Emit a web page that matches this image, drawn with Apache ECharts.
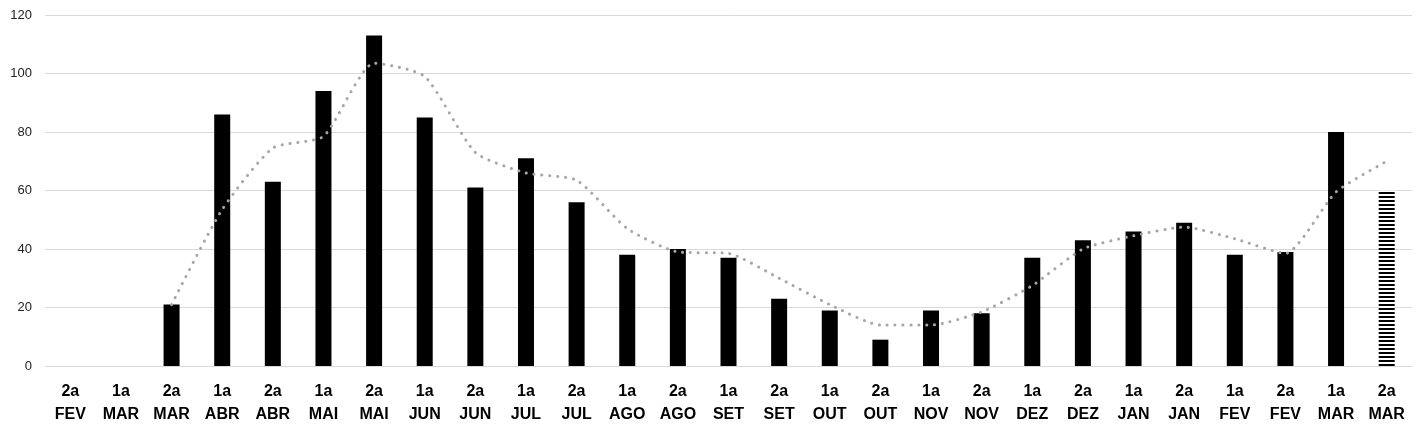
<!DOCTYPE html>
<html>
<head>
<meta charset="utf-8">
<script src="https://cdn.jsdelivr.net/npm/echarts@6/dist/echarts.min.js"></script>
<style>html,body{margin:0;padding:0;background:#fff;}#c{width:1426px;height:436px;}</style>
</head>
<body>
<div id="c"></div>
<script>
const categories = ['2a\nFEV','1a\nMAR','2a\nMAR','1a\nABR','2a\nABR','1a\nMAI','2a\nMAI','1a\nJUN','2a\nJUN','1a\nJUL','2a\nJUL','1a\nAGO','2a\nAGO','1a\nSET','2a\nSET','1a\nOUT','2a\nOUT','1a\nNOV','2a\nNOV','1a\nDEZ','2a\nDEZ','1a\nJAN','2a\nJAN','1a\nFEV','2a\nFEV','1a\nMAR','2a\nMAR'];
const barValues = [null,null,21,86,63,94,113,85,61,71,56,38,40,37,23,19,9,19,18,37,43,46,49,38,39,80,60];
const trendValues = [null,null,21,53.5,74.5,78.5,103.5,99,73,66,63.5,47,39,38.5,30,21,14,14,18.5,27.5,40,44.5,47.5,43.5,38.5,59.5,70];
const yTicks = [0,20,40,60,80,100,120];

const pc = document.createElement('canvas');
pc.width = 4; pc.height = 4;
const pctx = pc.getContext('2d');
pctx.fillStyle = '#ffffff'; pctx.fillRect(0,0,4,4);
pctx.fillStyle = '#000000'; pctx.fillRect(0,0,4,2);

const barData = barValues.map((v,i) => {
  if (i === barValues.length - 1) {
    return {value: v, itemStyle: {color: {image: pc, repeat: 'repeat'}}};
  }
  return v;
});

const chart = echarts.init(document.getElementById('c'), null, {renderer: 'canvas'});
chart.setOption({
  animation: false,
  backgroundColor: '#ffffff',
  grid: {left: 45, right: 14, top: 15, bottom: 70},
  xAxis: {
    type: 'category',
    data: categories,
    axisLine: {show: true, lineStyle: {color: '#d9d9d9'}},
    axisTick: {show: false},
    axisLabel: {
      interval: 0, color: '#000', fontSize: 16, fontWeight: 'bold',
      fontFamily: 'Liberation Sans, Arial, sans-serif', lineHeight: 23, margin: 14
    }
  },
  yAxis: {
    type: 'value', min: 0, max: 120, interval: 20,
    axisLine: {show: false}, axisTick: {show: false},
    splitLine: {lineStyle: {color: '#d9d9d9', width: 1}},
    axisLabel: {color: '#222', fontSize: 13, margin: 13, fontFamily: 'Liberation Sans, Arial, sans-serif',
      formatter: v => yTicks.includes(v) ? String(v) : ''}
  },
  series: [
    {
      type: 'bar', data: barData, barWidth: 16,
      itemStyle: {color: '#000000'}
    },
    {
      type: 'line', data: trendValues, smooth: 0.2, symbol: 'none',
      lineStyle: {color: '#a6a6a6', width: 3, type: [0.1, 7.8], cap: 'round'},
      z: 3
    }
  ]
});
</script>
</body>
</html>
